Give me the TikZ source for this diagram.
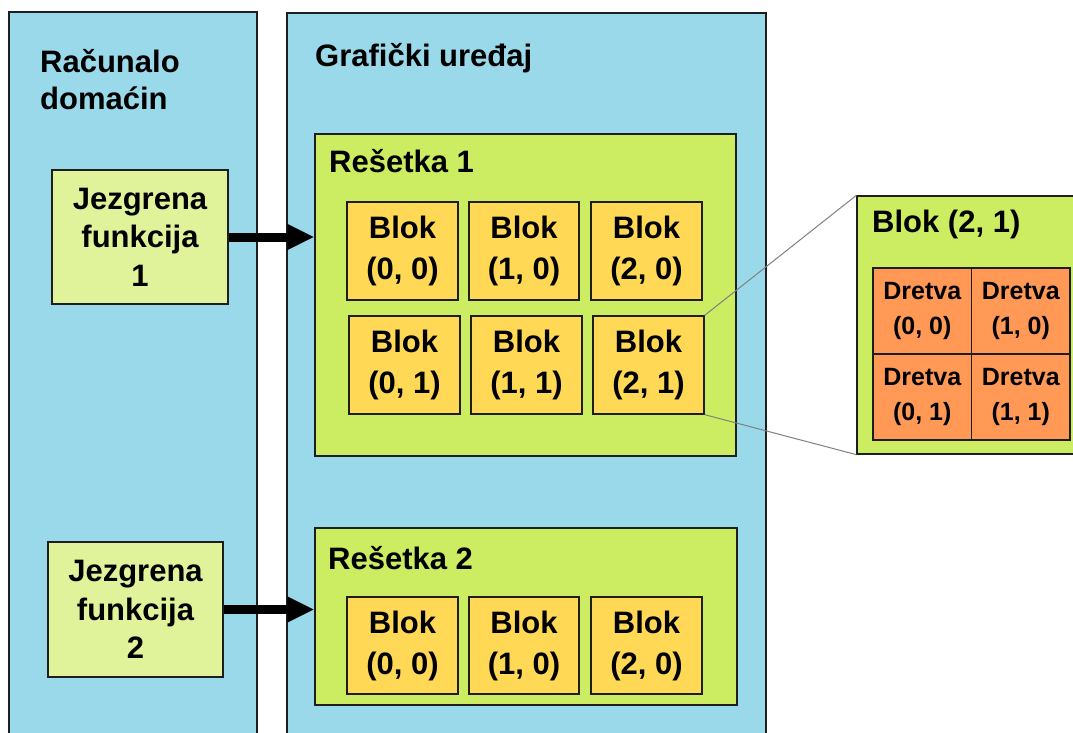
\documentclass[tikz,border=0pt]{standalone}
\usepackage{fontspec}
\setmainfont{Liberation Sans}
\usetikzlibrary{arrows.meta}

\definecolor{panelblue}{RGB}{153,217,234}
\definecolor{gridgreen}{RGB}{204,236,98}
\definecolor{kernelgreen}{RGB}{224,243,155}
\definecolor{blockyellow}{RGB}{255,217,85}
\definecolor{threadorange}{RGB}{255,153,85}
\definecolor{edgeblack}{RGB}{30,30,30}
\definecolor{zoomgray}{RGB}{128,128,128}

\begin{document}
\begin{tikzpicture}[x=1pt,y=-1pt,
  boxbase/.style={draw=edgeblack, line width=1.3pt, inner sep=0pt, align=center},
  panel/.style={boxbase, fill=panelblue},
  gridbox/.style={boxbase, fill=gridgreen},
  kernelbox/.style={boxbase, fill=kernelgreen, font={\bfseries\fontsize{31}{38.5}\selectfont}},
  blockbox/.style={boxbase, fill=blockyellow, minimum width=111pt, minimum height=98pt,
                   font={\bfseries\fontsize{31}{41}\selectfont}},
  threadbox/.style={boxbase, fill=threadorange, minimum width=98.5pt, minimum height=86pt,
                    font={\bfseries\fontsize{25}{34.5}\selectfont}},
  title/.style={anchor=base west, inner sep=0pt, font={\bfseries\fontsize{31}{38}\selectfont}},
  launch/.style={line width=9pt, -{Triangle[length=27pt,width=24pt]}},
  zoomline/.style={draw=zoomgray, line width=1pt},
]
\useasboundingbox (0,0) rectangle (1073,733);
\clip (0,0) rectangle (1073,733);

% host and device panels (open towards the bottom edge)
\node[panel, minimum width=248pt, minimum height=748pt] (host) at (133,386) {};
\node[panel, minimum width=479pt, minimum height=747pt] (device) at (526.5,386.5) {};

\node[title] (hostA) at (40,73) {Računalo};
\node[title] (hostB) at (40,110) {domaćin};
\node[title] (devtitle) at (315,67) {Grafički uređaj};

% kernels on the host
\node[kernelbox, minimum width=176pt, minimum height=134pt] (k1) at (140,237) {Jezgrena\\funkcija\\1};
\node[kernelbox, minimum width=175pt, minimum height=135pt] (k2) at (135.5,609.5) {Jezgrena\\funkcija\\2};

% grid 1
\node[gridbox, minimum width=421pt, minimum height=322pt] (g1) at (525.5,295) {};
\node[title] (g1title) at (329,172) {Rešetka 1};
\node[blockbox] (b00) at (402.5,251) {Blok\\(0, 0)};
\node[blockbox, minimum width=110pt] (b10) at (524,251) {Blok\\(1, 0)};
\node[blockbox] (b20) at (646.5,251) {Blok\\(2, 0)};
\node[blockbox] (b01) at (404.5,365) {Blok\\(0, 1)};
\node[blockbox] (b11) at (526.5,365) {Blok\\(1, 1)};
\node[blockbox] (b21) at (648.5,365) {Blok\\(2, 1)};

% grid 2
\node[gridbox, minimum width=422pt, minimum height=177pt] (g2) at (526,616.5) {};
\node[title] (g2title) at (328,569) {Rešetka 2};
\node[blockbox, minimum height=97pt] (c00) at (402.5,645.5) {Blok\\(0, 0)};
\node[blockbox, minimum width=110pt, minimum height=97pt] (c10) at (524,645.5) {Blok\\(1, 0)};
\node[blockbox, minimum height=97pt] (c20) at (646.5,645.5) {Blok\\(2, 0)};

% kernel launches
\draw[launch] (k1.east) -- (k1.east -| g1.west);
\draw[launch] (k2.east) -- (k2.east -| g2.west);

% magnified block (2, 1)
\node[gridbox, minimum width=233pt, minimum height=258pt] (detail) at (973.5,325) {};
\draw[zoomline] (b21.north east) -- (detail.north west);
\draw[zoomline] (b21.south east) -- (detail.south west);
\node[title] (dtitle) at (872,232) {Blok (2, 1)};
\node[threadbox] (t00) at (922.25,311) {Dretva\\(0, 0)};
\node[threadbox] (t10) at (1020.75,311) {Dretva\\(1, 0)};
\node[threadbox] (t01) at (922.25,397) {Dretva\\(0, 1)};
\node[threadbox] (t11) at (1020.75,397) {Dretva\\(1, 1)};
\end{tikzpicture}
\end{document}
